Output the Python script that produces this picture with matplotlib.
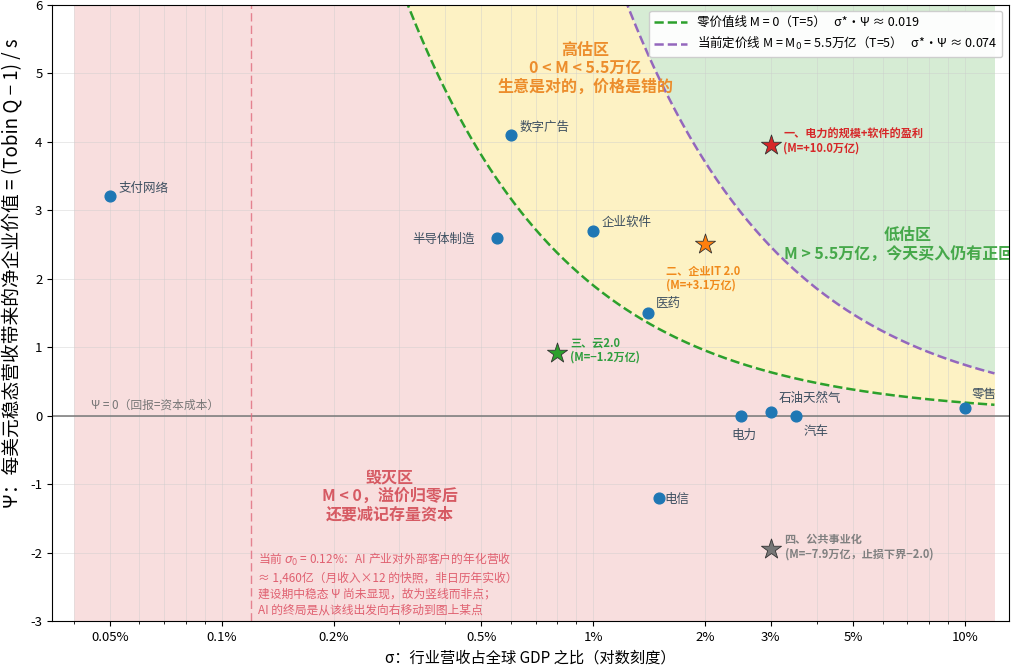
import numpy as np
import matplotlib
matplotlib.use('Agg')
from matplotlib import pyplot as plt
from matplotlib.ticker import FixedLocator, FixedFormatter, LogLocator, NullFormatter

plt.rcParams['font.family'] = ['Noto Sans CJK SC', 'DejaVu Sans']
plt.rcParams['axes.unicode_minus'] = False

# industries: sigma (share of world GDP) and psi
ind_names = ['支付网络', '数字广告', '半导体制造', '企业软件', '医药',
             '电力', '石油天然气', '汽车', '零售', '电信']
ind_sigma = [0.0005, 0.006, 0.0055, 0.010, 0.014,
             0.025, 0.030, 0.035, 0.10, 0.015]
ind_psi = [3.2, 4.1, 2.6, 2.7, 1.5, 0.0, 0.05, 0.0, 0.11, -1.2]

# AI end-state scenarios
scen_labels = ['一、电力的规模+软件的盈利\n(M=+10.0万亿)',
               '二、企业IT 2.0\n(M=+3.1万亿)',
               '三、云2.0\n(M=−1.2万亿)',
               '四、公共事业化\n(M=−7.9万亿，止损下界−2.0)']
scen_sigma = [0.030, 0.020, 0.008, 0.030]
scen_psi = [3.95, 2.5, 0.92, -1.95]
scen_colors = ['#d62728', '#ff7f0e', '#2ca02c', '#777777']
scen_text_colors = ['#d62728', '#f08a1c', '#2e9e3e', '#808080']

k_zero = 0.019   # sigma*psi on the M = 0 line
k_now = 0.074    # sigma*psi on the M = M0 line
sigma0 = 0.0012

xticks = [0.0005, 0.001, 0.002, 0.005, 0.01, 0.02, 0.03, 0.05, 0.10]
xtick_labels = ['0.05%', '0.1%', '0.2%', '0.5%', '1%', '2%', '3%', '5%', '10%']

fig = plt.figure(figsize=(10.24, 6.7), dpi=100)
ax = fig.add_axes([0.051, 0.073, 0.934, 0.92])

ymin, ymax = -3, 6
s = np.logspace(np.log10(0.0004), np.log10(0.12), 600)
zero_line = k_zero / s
now_line = k_now / s
ax.fill_between(s, ymin, np.minimum(zero_line, ymax), color='#f8dede', lw=0, zorder=0)
ax.fill_between(s, np.minimum(zero_line, ymax), np.minimum(now_line, ymax),
                color='#fdf2c4', lw=0, zorder=0)
ax.fill_between(s, np.minimum(now_line, ymax), ymax, color='#d6ecd4', lw=0, zorder=0)

ax.plot(s, zero_line, '--', color='#2ca02c', lw=1.8, zorder=2,
        label='零价值线 M = 0（T=5）   σ*·Ψ ≈ 0.019')
ax.plot(s, now_line, '--', color='#9467bd', lw=1.8, zorder=2,
        label='当前定价线 M = M$_0$ = 5.5万亿（T=5）   σ*·Ψ ≈ 0.074')

ax.axhline(0, color='#777777', lw=1.1, zorder=1)
ax.axvline(sigma0, color='#e06b7d', lw=1, ls=(0, (6, 3)), alpha=0.8, zorder=1)

ax.scatter(ind_sigma, ind_psi, s=60, color='#1f77b4', zorder=4)

lab_off = {'支付网络': (6, 1, 'left'), '数字广告': (6, 1, 'left'),
           '半导体制造': (-16, -6, 'right'), '企业软件': (6, 1, 'left'),
           '医药': (6, 2, 'left'), '电力': (2, -19, 'center'),
           '石油天然气': (6, 5, 'left'), '汽车': (6, -16, 'left'),
           '零售': (5, 5, 'left'), '电信': (4, -6, 'left')}
for n, x, y in zip(ind_names, ind_sigma, ind_psi):
    dx, dy, ha = lab_off[n]
    ax.annotate(n, (x, y), xytext=(dx, dy), textcoords='offset points',
                ha=ha, va='bottom', fontsize=9, color='#3d4f60', zorder=5)

scen_off = [(9, -7), (-28, -34), (9, -8), (10, -8)]
for lab, x, y, c, tc, off in zip(scen_labels, scen_sigma, scen_psi, scen_colors,
                                 scen_text_colors, scen_off):
    ax.scatter([x], [y], marker='*', s=230, color=c, edgecolor='#333333',
               linewidth=0.6, zorder=5)
    ax.annotate(lab, (x, y), xytext=off, textcoords='offset points', ha='left',
                va='bottom', fontsize=8, fontweight='bold', color=tc,
                linespacing=1.1, zorder=6)

ax.text(0.0095, 5.07, '高估区\n0 < M < 5.5万亿\n生意是对的，价格是错的', ha='center',
        va='center', fontsize=11.5, fontweight='bold', color='#ec8d2c', linespacing=1.2)
ax.text(0.070, 2.5, '低估区\nM > 5.5万亿，今天买入仍有正回报', ha='center', va='center',
        fontsize=11.5, fontweight='bold', color='#46a84a', linespacing=1.25, clip_on=True)
ax.text(0.00283, -1.17, '毁灭区\nM < 0，溢价归零后\n还要减记存量资本', ha='center',
        va='center', fontsize=11.5, fontweight='bold', color='#d65a63', linespacing=1.2)
ax.text(0.000445, 0.06, 'Ψ = 0（回报=资本成本）', fontsize=8.5, color='#777777',
        va='bottom', ha='left')
ax.text(0.00125, -2.93,
        '当前 $\\sigma_0$ = 0.12%：AI 产业对外部客户的年化营收\n'
        '≈ 1,460亿（月收入×12 的快照，非日历年实收）\n'
        '建设期中稳态 Ψ 尚未显现，故为竖线而非点；\n'
        'AI 的终局是从该线出发向右移动到图上某点',
        fontsize=8.5, color='#e06070', va='bottom', ha='left', linespacing=1.3)

ax.set_xscale('log')
ax.set_xlim(0.00035, 0.131)
ax.set_ylim(ymin, ymax)
ax.xaxis.set_major_locator(FixedLocator(xticks))
ax.xaxis.set_major_formatter(FixedFormatter(xtick_labels))
ax.xaxis.set_minor_locator(LogLocator(base=10, subs=np.arange(2, 10)))
ax.xaxis.set_minor_formatter(NullFormatter())
ax.set_yticks(range(-3, 7))
ax.grid(True, which='both', color='#cccccc', lw=0.6, alpha=0.5)
ax.set_axisbelow(True)
ax.tick_params(labelsize=9.5)

ax.set_xlabel('σ：行业营收占全球 GDP 之比（对数刻度）', fontsize=11)
ax.set_ylabel('Ψ：每美元稳态营收带来的净企业价值 = (Tobin Q − 1) / s', fontsize=13.5)
ax.yaxis.set_label_coords(-0.031, 0.565)

ax.legend(loc='upper right', fontsize=9, framealpha=0.95, borderaxespad=0.5,
          handlelength=2.6)

fig.savefig('out.png', dpi=100)
